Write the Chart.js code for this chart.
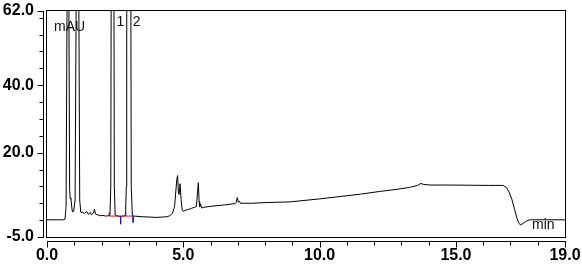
<!DOCTYPE html>
<html><head><meta charset="utf-8">
<style>html,body{margin:0;padding:0;background:#fff;overflow:hidden}canvas{display:block}</style>
<script src="https://cdn.jsdelivr.net/npm/chart.js@4"></script>
</head><body>
<canvas id="c" width="582" height="266"></canvas>
<script>
// Retention time (min) and detector signal (mAU)
const timeMin = [0.00,0.62,0.66,0.70,0.745,0.77,0.795,0.83,0.85,0.88,0.90,0.93,0.98,1.03,1.08,1.12,1.16,1.20,1.24,1.30,1.38,1.45,1.52,1.58,1.63,1.70,1.74,1.78,1.85,1.95,2.05,2.15,2.25,2.31,2.34,2.355,2.40,2.455,2.47,2.50,2.60,2.70,2.80,2.88,2.91,2.925,3.00,3.075,3.09,3.13,3.20,3.50,3.80,4.00,4.20,4.40,4.50,4.60,4.68,4.72,4.76,4.79,4.82,4.845,4.88,4.92,4.96,5.00,5.10,5.20,5.30,5.40,5.48,5.52,5.55,5.58,5.60,5.63,5.67,5.75,6.00,6.50,6.90,6.94,6.98,7.02,7.06,7.10,7.50,8.00,8.90,10.0,10.75,11.5,12.2,12.8,13.3,13.6,13.72,13.8,14.05,14.7,15.5,16.2,16.73,16.86,16.95,17.05,17.15,17.23,17.30,17.36,17.42,17.50,17.60,17.72,19.0];
const signalMAU = [0.1,0.1,0.3,4,80,250,80,9,6.5,6.2,4.5,2.5,2.6,6,80,300,80,6,2.3,2.3,2.0,2.6,1.7,2.3,1.6,2.1,3.2,1.8,1.6,1.3,1.4,1.2,1.3,1.4,10,70,600,70,10,1.5,1.2,1.1,1.2,1.4,10,70,600,70,10,1.4,1.2,1.0,0.9,0.8,0.9,1.0,1.3,2.0,4.0,8,12,13.2,8.0,7.6,10.8,6.0,3.0,2.6,3.0,3.2,3.5,3.8,4.0,8.0,11.1,5.5,4.0,4.8,3.6,3.8,4.1,4.5,4.9,5.3,6.7,5.3,5.6,5.0,5.0,5.2,5.4,6.3,7.0,7.7,8.5,9.1,9.7,10.3,10.9,10.6,10.4,10.4,10.35,10.3,10.3,9.6,8.3,6.2,3.2,0.8,-0.8,-1.4,-1.2,-0.8,-0.2,0.1,0.1];

// Integration baseline and peak start/end markers
const intBaseTime = [2.28, 3.16];
const intBaseValue = [1.2, 1.2];
const markerTime = [2.28, 2.70, 2.89, 3.16];
const markerFrom = [1.2, 1.2, 1.2, 1.2];
const markerTo = [2.3, -1.2, 2.3, -0.7];

// Peak labels
const peakNames = ['1', '2'];
const peakTimes = [2.40, 3.00];

// Axes
const xMin = 0, xMax = 19;
const xTickValues = [0, 5, 10, 15, 19];
const xTickLabels = ['0.0', '5.0', '10.0', '15.0', '19.0'];
const yMin = -5, yMax = 62;
const yAllTicks = [-5,0,5,10,15,20,25,30,35,40,45,50,55,60,62];
const yTickValues = [-5, 20, 40, 62];
const yTickLabels = ['-5.0', '20.0', '40.0', '62.0'];
const yUnit = 'mAU';
const xUnit = 'min';

const traceData = timeMin.map((t, i) => ({x: t, y: signalMAU[i]}));
const baseData = intBaseTime.map((t, i) => ({x: t, y: intBaseValue[i]}));
const markerData = [];
markerTime.forEach((t, i) => {
  markerData.push({x: t, y: markerFrom[i]}, {x: t, y: markerTo[i]}, {x: t, y: null});
});

const frame = {
  id: 'frame',
  afterDraw(chart) {
    const {ctx, chartArea: a, scales: {x, y}} = chart;
    ctx.save();
    ctx.strokeStyle = '#000';
    ctx.lineWidth = 1;
    // plot box
    ctx.strokeRect(a.left - 0.5, a.top - 0.5, a.right - a.left + 1, a.bottom - a.top + 1);
    // y axis (offset to the left of the box)
    const ax = Math.round(a.left) - 4 + 0.5;
    ctx.beginPath();
    ctx.moveTo(ax, Math.round(y.getPixelForValue(yMax)));
    ctx.lineTo(ax, Math.round(y.getPixelForValue(yMin)) + 1);
    y.ticks.forEach(tk => {
      const py = Math.round(y.getPixelForValue(tk.value)) + 0.5;
      const len = yTickValues.includes(tk.value) ? 6 : 4;
      ctx.moveTo(ax - len, py); ctx.lineTo(ax, py);
    });
    // x axis (offset below the box)
    const ay = Math.round(a.bottom) + 4 + 0.5;
    ctx.moveTo(Math.round(x.getPixelForValue(xMin)), ay);
    ctx.lineTo(Math.round(x.getPixelForValue(xMax)) + 1, ay);
    x.ticks.forEach(tk => {
      const px = Math.round(x.getPixelForValue(tk.value)) + 0.5;
      const len = xTickValues.includes(tk.value) ? 6 : 4;
      ctx.moveTo(px, ay); ctx.lineTo(px, ay + len);
    });
    ctx.stroke();
    // texts
    ctx.fillStyle = '#111';
    ctx.font = '14px "Liberation Sans", Arial, sans-serif';
    ctx.textBaseline = 'alphabetic';
    ctx.textAlign = 'left';
    ctx.fillText(yUnit, a.left + 7, a.top + 20);
    ctx.fillText(xUnit, a.right - 33, a.bottom - 8);
    peakNames.forEach((n, i) => {
      ctx.fillText(n, x.getPixelForValue(peakTimes[i]) + 4, a.top + 15);
    });
    ctx.restore();
  }
};

new Chart(document.getElementById('c'), {
  type: 'line',
  data: {
    datasets: [
      {data: traceData, borderColor: '#000', borderWidth: 1, pointRadius: 0, tension: 0, clip: 0, order: 3},
      {data: baseData, borderColor: '#e02020', borderWidth: 1, pointRadius: 0, tension: 0, clip: 0, order: 2},
      {data: markerData, borderColor: '#1a1aa0', borderWidth: 1, pointRadius: 0, tension: 0, spanGaps: false, clip: 0, order: 1}
    ]
  },
  options: {
    responsive: false,
    devicePixelRatio: 1,
    animation: false,
    events: [],
    layout: {padding: {top: 11, right: 17, left: 0, bottom: 0}},
    plugins: {legend: {display: false}, tooltip: {enabled: false}},
    scales: {
      x: {
        type: 'linear', min: xMin, max: xMax,
        grid: {display: false, drawTicks: false},
        border: {display: false},
        afterFit: s => { s.height = 29; s.paddingLeft = 0; s.paddingRight = 0; },
        ticks: {
          stepSize: 1, autoSkip: false, maxRotation: 0, padding: 9,
          color: '#000', font: {family: '"Liberation Sans", Arial, sans-serif', size: 16, weight: 'bold'},
          callback: v => { const i = xTickValues.indexOf(v); return i >= 0 ? xTickLabels[i] : ''; }
        }
      },
      y: {
        type: 'linear', min: yMin, max: yMax,
        grid: {display: false, drawTicks: false},
        border: {display: false},
        afterFit: s => { s.width = 47; s.paddingTop = 0; s.paddingBottom = 0; },
        afterBuildTicks: s => { s.ticks = yAllTicks.map(v => ({value: v})); },
        ticks: {
          autoSkip: false, padding: 13,
          color: '#000', font: {family: '"Liberation Sans", Arial, sans-serif', size: 16, weight: 'bold'},
          callback: v => { const i = yTickValues.indexOf(v); return i >= 0 ? yTickLabels[i] : ''; }
        }
      }
    }
  },
  plugins: [frame]
});
</script>
</body></html>
